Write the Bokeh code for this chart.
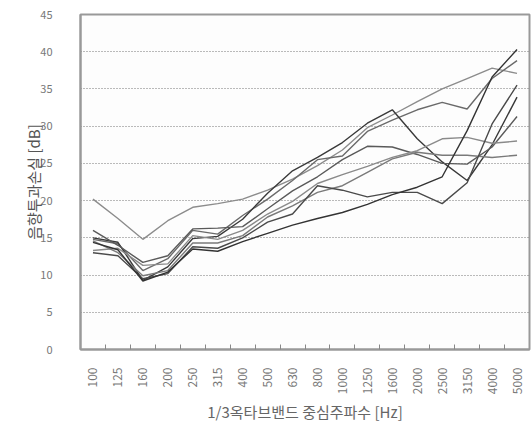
from bokeh.plotting import figure
from bokeh.models import Range1d, FixedTicker
from bokeh.embed import file_html
from bokeh.resources import INLINE
import math

freqs = ["100", "125", "160", "200", "250", "315", "400", "500", "630", "800",
         "1000", "1250", "1600", "2000", "2500", "3150", "4000", "5000"]

s1 = [20.2, 17.6, 14.8, 17.3, 19.1, 19.6, 20.2, 21.4, 22.9, 24.7, 26.8, 29.8, 31.5, 33.3, 35.0, 36.4, 37.8, 37.1]
s2 = [14.8, 14.2, 10.6, 12.2, 16.0, 15.5, 18.0, 20.2, 22.7, 25.5, 26.0, 29.3, 30.8, 32.2, 33.2, 32.3, 36.4, 38.8]
s3 = [15.0, 14.4, 9.3, 11.1, 14.9, 15.2, 17.5, 21.0, 24.0, 25.8, 27.8, 30.4, 32.2, 28.3, 25.2, 22.7, 27.5, 33.9]
s4 = [16.0, 14.0, 11.7, 12.6, 16.2, 16.3, 16.5, 18.9, 21.3, 23.2, 25.5, 27.3, 27.2, 26.2, 25.0, 24.9, 27.2, 31.3]
s5 = [13.3, 13.6, 11.3, 11.5, 15.3, 14.8, 16.0, 18.2, 19.9, 22.3, 23.5, 24.6, 25.8, 26.7, 28.3, 28.5, 27.7, 28.0]
s6 = [14.6, 13.0, 9.9, 10.6, 14.3, 14.3, 15.3, 17.8, 19.3, 21.1, 22.0, 23.8, 25.6, 26.5, 26.1, 26.1, 25.8, 26.1]
s7 = [13.0, 12.6, 9.5, 10.2, 13.8, 13.6, 15.0, 17.1, 18.2, 22.0, 21.4, 20.5, 21.1, 21.1, 19.6, 22.4, 30.3, 35.5]
s8 = [14.4, 13.4, 9.2, 10.4, 13.5, 13.2, 14.5, 15.6, 16.7, 17.6, 18.4, 19.5, 20.8, 21.8, 23.2, 29.4, 36.6, 40.3]

series = [s1, s2, s3, s4, s5, s6, s7, s8]
colors = ["#8c8c8c", "#6a6a6a", "#3a3a3a", "#5a5a5a", "#8a8a8a", "#7a7a7a", "#4a4a4a", "#333333"]

y_ticks = [0, 5, 10, 15, 20, 25, 30, 35, 40, 45]

FONT = "Noto Sans CJK KR"

xs = list(range(len(freqs)))

p = figure(frame_width=449, frame_height=335, output_backend="svg", toolbar_location=None,
           x_range=Range1d(-0.5, len(freqs) - 0.5), y_range=Range1d(0, 45),
           min_border_left=80, min_border_right=3, min_border_top=14, min_border_bottom=72)
p.background_fill_color = "#fdfdfd"
p.border_fill_color = "white"
p.outline_line_color = "#999999"
p.outline_line_width = 2

for s, c in zip(series, colors):
    p.line(xs, s, line_color=c, line_width=1.4)

# x axis
p.xaxis.ticker = FixedTicker(ticks=xs, minor_ticks=[i + 0.5 for i in xs[:-1]])
p.xaxis.major_label_overrides = {i: f for i, f in enumerate(freqs)}
p.xaxis.major_label_orientation = math.pi / 2
p.xaxis.major_tick_line_color = None
p.xaxis.minor_tick_line_color = "#888888"
p.xaxis.minor_tick_in = 5
p.xaxis.minor_tick_out = 0
p.xaxis.axis_line_color = "#999999"
p.xaxis.axis_line_width = 2
p.xaxis.major_label_standoff = 12
p.xaxis.major_label_text_font = FONT
p.xaxis.major_label_text_font_size = "12px"
p.xaxis.major_label_text_color = "#777777"
p.xaxis.axis_label = "1/3옥타브밴드 중심주파수 [Hz]"
p.xaxis.axis_label_text_font = FONT
p.xaxis.axis_label_text_font_size = "15px"
p.xaxis.axis_label_text_font_style = "normal"
p.xaxis.axis_label_text_color = "#666666"
p.xaxis.axis_label_standoff = 4

# y axis
p.yaxis.ticker = FixedTicker(ticks=y_ticks)
p.yaxis.major_tick_line_color = None
p.yaxis.minor_tick_line_color = None
p.yaxis.axis_line_color = "#999999"
p.yaxis.axis_line_width = 2
p.yaxis.major_label_standoff = 22
p.yaxis.major_label_text_font = FONT
p.yaxis.major_label_text_font_size = "11px"
p.yaxis.major_label_text_color = "#777777"
p.yaxis.axis_label = "음향투과손실 [dB]"
p.yaxis.axis_label_text_font = FONT
p.yaxis.axis_label_text_font_size = "15px"
p.yaxis.axis_label_text_font_style = "normal"
p.yaxis.axis_label_text_color = "#555555"
p.yaxis.axis_label_standoff = -7

p.xgrid.grid_line_color = None
p.ygrid.ticker = FixedTicker(ticks=y_ticks[1:-1])
p.ygrid.grid_line_color = "#777777"
p.ygrid.grid_line_dash = "1 2"
p.ygrid.grid_line_width = 1

open("out.html", "w").write(file_html(p, INLINE))
